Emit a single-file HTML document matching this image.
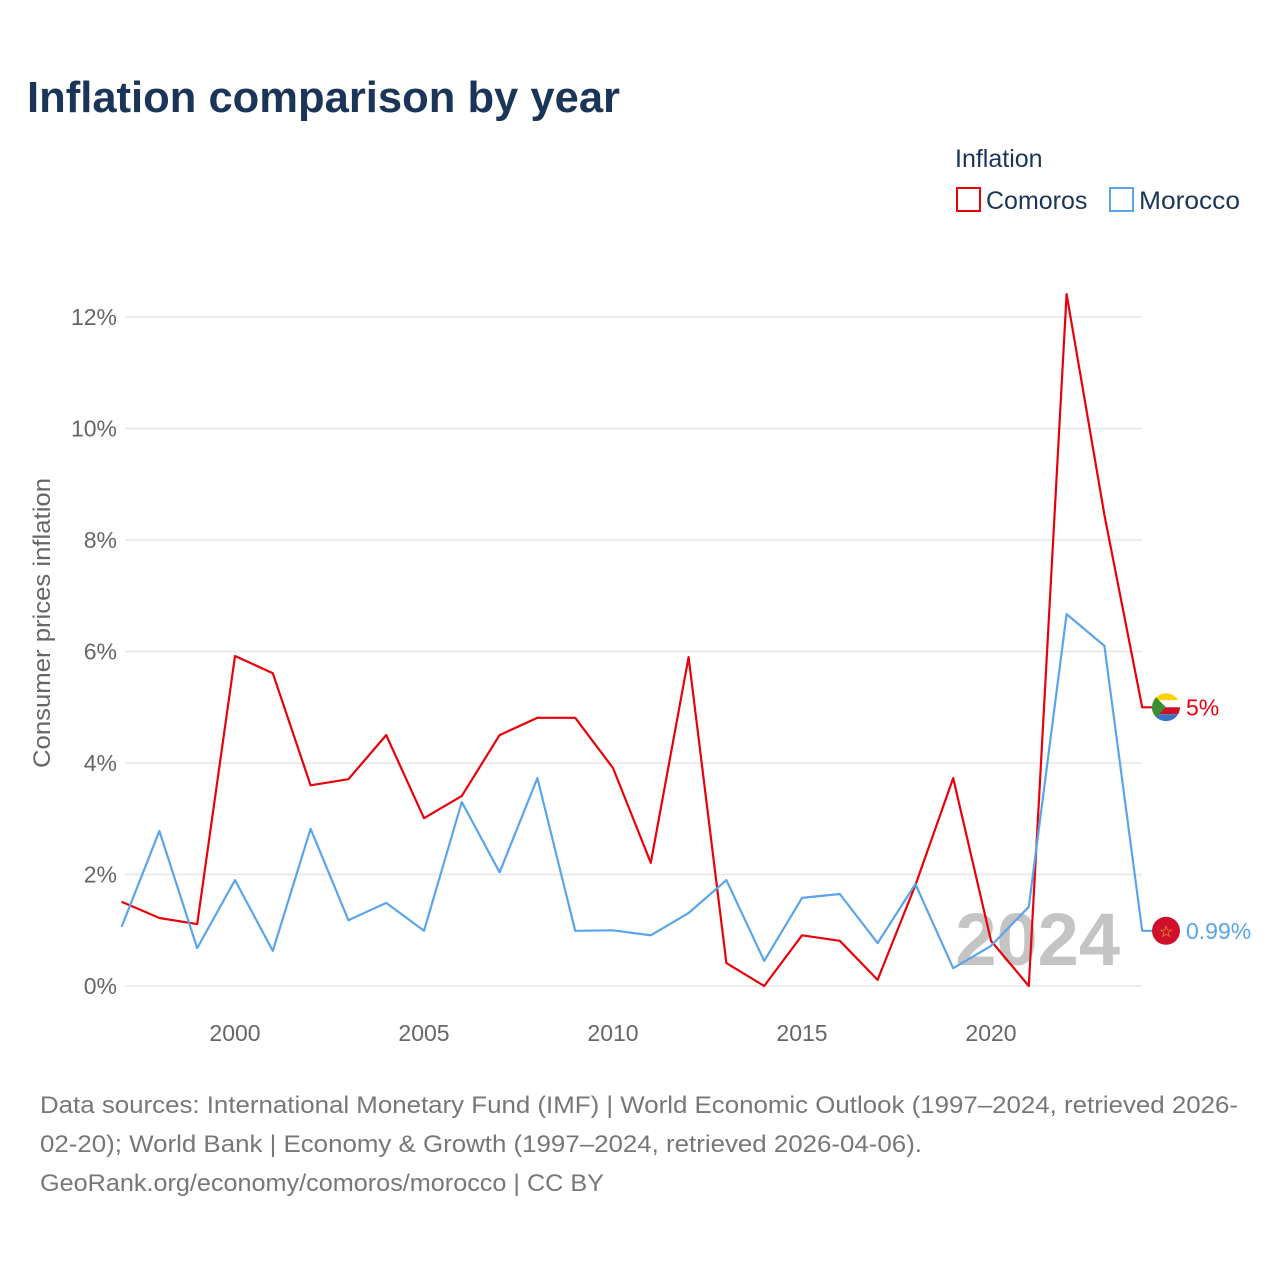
<!DOCTYPE html>
<html><head><meta charset="utf-8"><style>
body{margin:0;background:#fff;font-family:"Liberation Sans",sans-serif;}
#wrap{position:relative;width:1280px;height:1280px;overflow:hidden;}
</style></head><body>
<div id="wrap">
<svg id="chart" width="1280" height="1280" xmlns="http://www.w3.org/2000/svg">
<defs>
<clipPath id="c1"><circle cx="1166" cy="707.3" r="14"/></clipPath>
</defs>
<text x="27" y="112" font-size="44" font-weight="bold" fill="#1a3557" textLength="593" lengthAdjust="spacingAndGlyphs">Inflation comparison by year</text>
<text x="955" y="167" font-size="25" fill="#1a3557">Inflation</text>
<g><rect x="957" y="188" width="23" height="23" fill="#fff" stroke="#e8000b" stroke-width="2"/><text x="986" y="209" font-size="25" fill="#1a3557">Comoros</text></g>
<g><rect x="1110" y="188" width="23" height="23" fill="#fff" stroke="#5aa5ea" stroke-width="2"/><text x="1139" y="209" font-size="25" fill="#1a3557" textLength="101" lengthAdjust="spacingAndGlyphs">Morocco</text></g>
<text transform="translate(50,623) rotate(-90)" text-anchor="middle" font-size="24" fill="#666" textLength="290" lengthAdjust="spacingAndGlyphs">Consumer prices inflation</text>
<g id="grid"></g><g id="xt"></g>
<text x="1120" y="965" text-anchor="end" font-size="74" font-weight="bold" fill="#c4c4c4">2024</text>
<g id="lines"></g>
<text x="40" y="1113" font-size="24" fill="#777" textLength="1198" lengthAdjust="spacingAndGlyphs">Data sources: International Monetary Fund (IMF) | World Economic Outlook (1997–2024, retrieved 2026-</text>
<text x="40" y="1152" font-size="24" fill="#777" textLength="882" lengthAdjust="spacingAndGlyphs">02-20); World Bank | Economy &amp; Growth (1997–2024, retrieved 2026-04-06).</text>
<text x="40" y="1191" font-size="24" fill="#777" textLength="564" lengthAdjust="spacingAndGlyphs">GeoRank.org/economy/comoros/morocco | CC BY</text>
</svg></div>
<script>
const years=[1997,1998,1999,2000,2001,2002,2003,2004,2005,2006,2007,2008,2009,2010,2011,2012,2013,2014,2015,2016,2017,2018,2019,2020,2021,2022,2023,2024];
const comoros=[1.51,1.22,1.11,5.92,5.61,3.6,3.71,4.5,3.01,3.41,4.5,4.81,4.81,3.91,2.21,5.9,0.41,0,0.91,0.81,0.11,1.81,3.73,0.81,0,12.41,8.45,5.0];
const morocco=[1.06,2.78,0.68,1.9,0.63,2.82,1.18,1.49,0.99,3.3,2.04,3.73,0.99,1.0,0.91,1.31,1.9,0.45,1.58,1.65,0.77,1.83,0.32,0.72,1.42,6.67,6.1,0.99];
const yTicks=[0,2,4,6,8,10,12];
const xTicks=[2000,2005,2010,2015,2020];
const NS="http://www.w3.org/2000/svg";
const xs=y=>121.6+(y-1997)*37.8;
const ys=v=>986-v*55.75;
function mk(t,a,p){const e=document.createElementNS(NS,t);for(const k in a)e.setAttribute(k,a[k]);p.appendChild(e);return e;}
const grid=document.getElementById('grid');
yTicks.forEach(v=>{
 const l=mk('line',{x1:125,x2:1142,y1:ys(v),y2:ys(v),stroke:'#e6e6e6','stroke-width':1.5},grid);
 
 
 const t=mk('text',{x:117,y:ys(v)+8,'text-anchor':'end','font-size':23,fill:'#666'},grid);
 t.textContent=v+'%';
 
 
});
const xt=document.getElementById('xt');
xTicks.forEach(y=>{
 const t=mk('text',{x:xs(y),y:1041,'text-anchor':'middle','font-size':23,fill:'#666'},xt);
 t.textContent=y;
 
 
});
const lines=document.getElementById('lines');
function series(vals,col,name,label,flag){
 let d=vals.map((v,i)=>(i?'L':'M')+xs(years[i]).toFixed(1)+','+ys(v).toFixed(1)).join(' ');
 const last=vals[vals.length-1];
 d+=' L1152,'+ys(last).toFixed(1);
 const p=mk('path',{d:d,fill:'none',stroke:col,'stroke-width':2.2,'stroke-linejoin':'round'},lines);
 
 
 const g=mk('g',{},lines);
 
 
 flag(g,1166,ys(last));
 const t=mk('text',{x:1186,y:ys(last)+8,'font-size':23,fill:col},lines);
 t.textContent=label;
 
 
}
series(comoros,'#e8000b','comoros','5%',(g,cx,cy)=>{
 const cp=document.getElementById('c1').firstElementChild;
 cp.setAttribute('cy',cy);
 const f=mk('g',{'clip-path':'url(#c1)'},g);
 mk('rect',{x:cx-14,y:cy-14,width:28,height:7,fill:'#ffd100'},f);
 mk('rect',{x:cx-14,y:cy-7,width:28,height:7,fill:'#fff'},f);
 mk('rect',{x:cx-14,y:cy,width:28,height:7,fill:'#ce1126'},f);
 mk('rect',{x:cx-14,y:cy+7,width:28,height:7,fill:'#3a75c4'},f);
 mk('path',{d:`M${cx-14},${cy-14} L${cx},${cy} L${cx-14},${cy+14}Z`,fill:'#3d8e33'},f);
});
series(morocco,'#5aa5ea','morocco','0.99%',(g,cx,cy)=>{
 mk('circle',{cx:cx,cy:cy,r:14,fill:'#d0102a'},g);
 mk('text',{x:cx,y:cy+6,'text-anchor':'middle','font-size':16,fill:'#e8c21a'},g).textContent='☆';
});
</script>
</body></html>
